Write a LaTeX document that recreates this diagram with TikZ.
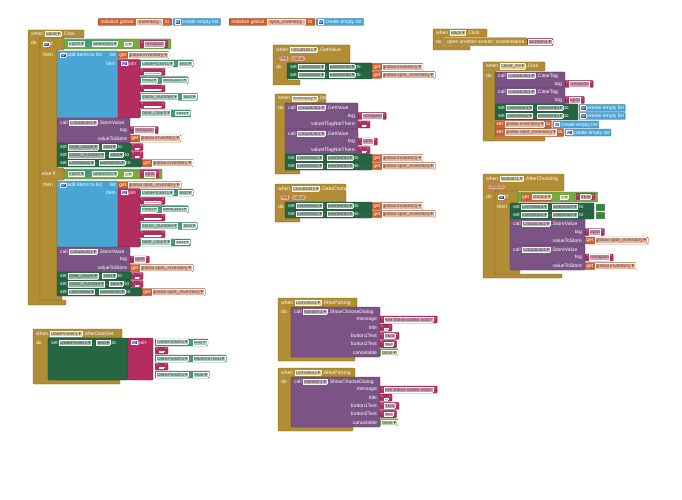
\documentclass[tikz,border=0pt]{standalone}
\usepackage{fontspec}
\setsansfont{Liberation Sans}
\newfontfamily\symf{DejaVu Sans}
\usepackage{xcolor}
\usetikzlibrary{positioning}

\definecolor{evtC}{RGB}{177,142,53}
\definecolor{lstC}{RGB}{73,166,212}
\definecolor{txtC}{RGB}{179,45,94}
\definecolor{getC}{RGB}{67,153,112}
\definecolor{setC}{RGB}{38,102,67}
\definecolor{mthC}{RGB}{124,83,133}
\definecolor{varC}{RGB}{208,95,45}
\definecolor{lgcC}{RGB}{119,171,65}
\definecolor{colC}{RGB}{0,175,0}
\definecolor{gearC}{RGB}{55,75,190}

\newcommand{\bfnt}{\sffamily\fontsize{5}{5.5}\selectfont}
\newcommand{\dd}{\,{\symf\char"25BE}}
\newcommand{\gp}{\hspace{1.6pt}}
% dropdown field, text field, string, gear, nested value block
\newcommand{\fb}[2]{{\setlength{\fboxsep}{0.5pt}\setlength{\fboxrule}{0.25pt}\fcolorbox{white}{#1!48!white}{\textcolor{black!70}{#2\dd}}}}
\newcommand{\fs}[2]{{\setlength{\fboxsep}{0.5pt}\setlength{\fboxrule}{0.25pt}\fcolorbox{white}{#1!48!white}{\textcolor{black!70}{#2}}}}
\newcommand{\qs}[1]{"\,\fs{txtC}{#1}\,"}
\newcommand{\gear}{{\setlength{\fboxsep}{0.3pt}\setlength{\fboxrule}{0.25pt}\fcolorbox{white}{gearC}{\textcolor{white}{\symf\char"2699}}}}
\newcommand{\vbx}[2]{{\setlength{\fboxsep}{1pt}\colorbox{#1}{#2}}}

% the seven pieces joined in Save.Click
\newcommand{\savejoin}[2]{%
  \node[vb=getC] (#1a) at (140,#2) {\fb{getC}{DatePicker1}\gp.\gp\fb{getC}{Text}};
  \node[vb=txtC] (#1b) at (140,#2+8.3) {\qs{\hspace{16pt}}};
  \node[vb=getC] (#1c) at (140,#2+16.7) {\fb{getC}{Field}\gp.\gp\fb{getC}{Selection}};
  \node[vb=txtC] (#1d) at (140,#2+25) {\qs{\hspace{16pt}}};
  \node[vb=getC] (#1e) at (140,#2+33.3) {\fb{getC}{stack\_number}\gp.\gp\fb{getC}{Text}};
  \node[vb=txtC] (#1f) at (140,#2+41.7) {\qs{\hspace{16pt}}};
  \node[vb=getC] (#1g) at (140,#2+50) {\fb{getC}{bale\_count}\gp.\gp\fb{getC}{Text}};
}
% the five sockets of ShowChooseDialog
\newcommand{\dialog}[2]{%
  \node[rlbl] (#1m) at (377,#2) {message};
  \node[rlbl] (#1t) at (377,#2+8.2) {title};
  \node[rlbl] (#1b) at (377,#2+16.4) {button1Text};
  \node[rlbl] (#1n) at (377,#2+24.6) {button2Text};
  \node[rlbl] (#1c) at (377,#2+32.8) {cancelable};
  \node[vb=txtC] (#1mv) at (380,#2) {\qs{Are these bales sold?}};
  \node[vb=txtC] (#1tv) at (380,#2+8.2) {\qs{\hspace{3pt}}};
  \node[vb=txtC] (#1bv) at (380,#2+16.4) {\qs{YES}};
  \node[vb=txtC] (#1nv) at (380,#2+24.6) {\qs{NO}};
  \node[vb=lgcC] (#1cv) at (380,#2+32.8) {\fb{lgcC}{false}};
}

\begin{document}
\begin{tikzpicture}[x=1pt, y=-1pt,
    blk/.style={line width=0.3pt, rounded corners=0.8pt},
    evtb/.style={blk, fill=evtC, draw=evtC!70!black},
    lstb/.style={blk, fill=lstC, draw=lstC!70!black},
    txtb/.style={blk, fill=txtC, draw=txtC!70!black},
    setb/.style={blk, fill=setC, draw=setC!70!black},
    mthb/.style={blk, fill=mthC, draw=mthC!70!black},
    lbl/.style={font=\bfnt, text=white, inner sep=0pt, anchor=west},
    rlbl/.style={lbl, anchor=east},
    vb/.style={font=\bfnt, text=white, inner xsep=1.2pt, inner ysep=0.3pt,
               minimum height=7pt, rounded corners=0.8pt, anchor=west,
               fill=#1, draw=#1!70!black, line width=0.3pt},
    param/.style={font=\bfnt, fill=varC!50!white, draw=varC, text=black!65,
                  rounded corners=1pt, inner xsep=1.2pt, inner ysep=0.6pt,
                  anchor=west, line width=0.3pt},
    colb/.style={fill=colC, draw=black!55, line width=0.4pt,
                 minimum width=8pt, minimum height=6pt, inner sep=0pt, anchor=west}]
  \fill[white] (0,0) rectangle (682,500);

  % globals
  \node[vb=varC, inner xsep=2.5pt] (initInv) at (98,22) {initialize global\hspace{3pt}\fs{varC}{\hspace{2pt}inventory\hspace{2pt}}\hspace{3pt}to};
  \node[vb=lstC, inner xsep=2pt, right=1pt of initInv] (initInvL) {\gear\gp create empty list};
  \node[vb=varC, inner xsep=2.5pt] (initSpot) at (229,22) {initialize global\hspace{3pt}\fs{varC}{\hspace{2pt}spot\_inventory\hspace{2pt}}\hspace{3pt}to};
  \node[vb=lstC, inner xsep=2pt, right=1pt of initSpot] (initSpotL) {\gear\gp create empty list};

  % when Save.Click
  \draw[evtb] (28,30) -- (84,30) -- (84,38) -- (40,38) -- (40,300) -- (66,300)
    -- (66,305) -- (28,305) -- cycle;
  \node[lbl] (svHd) at (31,34) {when\gp\fb{evtC}{Save}\gp.Click};
  \node[lbl] (svDo) at (31,43) {do};
  \draw[evtb] (40,38) -- (64,38) -- (64,50) -- (57,50) -- (57,168) -- (64,168)
    -- (64,180) -- (57,180) -- (57,296) -- (62,296) -- (62,300) -- (40,300) -- cycle;
  \node[lbl] (svIf) at (43,44) {\gear\gp if};
  \node[lbl] (svThenA) at (43,55) {then};
  \node[lbl] (svElif) at (42,174) {else if};
  \node[lbl] (svThenB) at (43,185) {then};
  \node[vb=lgcC, minimum height=10pt, inner xsep=3pt] (svCondA) at (64,44)
    {\vbx{getC}{\fb{getC}{Farm}\hspace{3pt}.\hspace{3pt}\fb{getC}{Selection}}\hspace{6pt}\fb{lgcC}{=}\hspace{8pt}\vbx{txtC}{\qs{Tonopah}}};
  \node[vb=lgcC, minimum height=10pt, inner xsep=3pt] (svCondB) at (64,174)
    {\vbx{getC}{\fb{getC}{Farm}\hspace{3pt}.\hspace{3pt}\fb{getC}{Selection}}\hspace{6pt}\fb{lgcC}{=}\hspace{8pt}\vbx{txtC}{\qs{Spot}}};

  % then (Tonopah)
  \draw[lstb] (57,51) rectangle (118,118);
  \node[lbl] (svAddA) at (60,55) {\gear\gp add items to list};
  \node[rlbl] (svAddAl) at (116,55) {list};
  \node[rlbl] (svAddAi) at (116,63.5) {item};
  \node[vb=varC] (svAddAg) at (118,55) {get\gp\fb{varC}{global inventory}};
  \draw[txtb] (118,59.5) rectangle (140,118);
  \node[lbl] (svJoinA) at (121,63.5) {\gear\gp join};
  \savejoin{svJa}{63.5}
  \draw[mthb] (57,118) rectangle (130,143);
  \node[lbl] (svCallA) at (60,122.5) {call\gp\fb{mthC}{CloudDB1}\gp.StoreValue};
  \node[rlbl] (svTagA) at (127,130) {tag};
  \node[rlbl] (svValA) at (127,138.5) {valueToStore};
  \node[vb=txtC] (svTagAv) at (130,130) {\qs{Tonopah}};
  \node[vb=varC] (svValAv) at (130,138.5) {get\gp\fb{varC}{global inventory}};
  \draw[setb] (57,143) rectangle (131,151);
  \node[lbl] (svSetA1) at (60,147) {set\gp\fb{setC}{bale\_count}\gp.\gp\fb{setC}{Text}\gp to};
  \node[vb=txtC] (svSetA1v) at (131,147) {\qs{\hspace{3pt}}};
  \draw[setb] (57,151) rectangle (131,159);
  \node[lbl] (svSetA2) at (60,155) {set\gp\fb{setC}{stack\_number}\gp.\gp\fb{setC}{Text}\gp to};
  \node[vb=txtC] (svSetA2v) at (131,155) {\qs{\hspace{3pt}}};
  \draw[setb] (57,159) rectangle (142,167);
  \node[lbl] (svSetA3) at (60,163) {set\gp\fb{setC}{ListView1}\gp.\gp\fb{setC}{Elements}\gp to};
  \node[vb=varC] (svSetA3v) at (142,163) {get\gp\fb{varC}{global inventory}};

  % then (Spot)
  \draw[lstb] (57,181) rectangle (118,247);
  \node[lbl] (svAddB) at (60,185) {\gear\gp add items to list};
  \node[rlbl] (svAddBl) at (116,185) {list};
  \node[rlbl] (svAddBi) at (116,192.5) {item};
  \node[vb=varC] (svAddBg) at (118,185) {get\gp\fb{varC}{global spot\_inventory}};
  \draw[txtb] (118,188.5) rectangle (140,247);
  \node[lbl] (svJoinB) at (121,192.5) {\gear\gp join};
  \savejoin{svJb}{192.5}
  \draw[mthb] (57,247) rectangle (130,272);
  \node[lbl] (svCallB) at (60,251.5) {call\gp\fb{mthC}{CloudDB1}\gp.StoreValue};
  \node[rlbl] (svTagB) at (127,259.5) {tag};
  \node[rlbl] (svValB) at (127,268) {valueToStore};
  \node[vb=txtC] (svTagBv) at (130,259.5) {\qs{Spot}};
  \node[vb=varC] (svValBv) at (130,268) {get\gp\fb{varC}{global spot\_inventory}};
  \draw[setb] (57,272) rectangle (131,280);
  \node[lbl] (svSetB1) at (60,276) {set\gp\fb{setC}{bale\_count}\gp.\gp\fb{setC}{Text}\gp to};
  \node[vb=txtC] (svSetB1v) at (131,276) {\qs{\hspace{3pt}}};
  \draw[setb] (57,280) rectangle (131,288);
  \node[lbl] (svSetB2) at (60,284) {set\gp\fb{setC}{stack\_number}\gp.\gp\fb{setC}{Text}\gp to};
  \node[vb=txtC] (svSetB2v) at (131,284) {\qs{\hspace{3pt}}};
  \draw[setb] (57,288) rectangle (142,296);
  \node[lbl] (svSetB3) at (60,292) {set\gp\fb{setC}{ListView2}\gp.\gp\fb{setC}{Elements}\gp to};
  \node[vb=varC] (svSetB3v) at (142,292) {get\gp\fb{varC}{global spot\_inventory}};

  % when CloudDB1.GotValue
  \draw[evtb] (273,45) -- (350,45) -- (350,63) -- (287,63) -- (287,80) -- (300,80)
    -- (300,85) -- (273,85) -- cycle;
  \node[lbl] (gvHd) at (276,50) {when\gp\fb{evtC}{CloudDB1}\gp.GotValue};
  \node[param] (gvTag) at (279,58.5) {tag};
  \node[param, right=2pt of gvTag] (gvVal) {value};
  \node[lbl] (gvDo) at (276,67) {do};
  \draw[setb] (287,63) rectangle (372,71);
  \node[lbl] (gvSet1) at (290,67) {set\gp\fb{setC}{ListView1}\gp.\gp\fb{setC}{Elements}\gp to};
  \node[vb=varC] (gvSet1v) at (372,67) {get\gp\fb{varC}{global inventory}};
  \draw[setb] (287,71) rectangle (372,79);
  \node[lbl] (gvSet2) at (290,75) {set\gp\fb{setC}{ListView2}\gp.\gp\fb{setC}{Elements}\gp to};
  \node[vb=varC] (gvSet2v) at (372,75) {get\gp\fb{varC}{global spot\_inventory}};

  % when Inventory.Initialize
  \draw[evtb] (275,94) -- (326,94) -- (326,103) -- (285,103) -- (285,170) -- (300,170)
    -- (300,174) -- (275,174) -- cycle;
  \node[lbl] (inHd) at (278,98.5) {when\gp\fb{evtC}{Inventory}\gp.Initialize};
  \node[lbl] (inDo) at (278,108) {do};
  \draw[mthb] (285,103) rectangle (358,129);
  \node[lbl] (inCall1) at (288,107.5) {call\gp\fb{mthC}{CloudDB1}\gp.GetValue};
  \node[rlbl] (inTag1) at (355,116) {tag};
  \node[rlbl] (inNot1) at (355,124.5) {valueIfTagNotThere};
  \node[vb=txtC] (inTag1v) at (358,116) {\qs{Tonopah}};
  \node[vb=txtC] (inNot1v) at (358,124.5) {\qs{\hspace{3pt}}};
  \draw[mthb] (285,129) rectangle (358,154);
  \node[lbl] (inCall2) at (288,133.5) {call\gp\fb{mthC}{CloudDB1}\gp.GetValue};
  \node[rlbl] (inTag2) at (355,141.5) {tag};
  \node[rlbl] (inNot2) at (355,150) {valueIfTagNotThere};
  \node[vb=txtC] (inTag2v) at (358,141.5) {\qs{Spot}};
  \node[vb=txtC] (inNot2v) at (358,150) {\qs{\hspace{3pt}}};
  \draw[setb] (285,154) rectangle (372,162);
  \node[lbl] (inSet1) at (288,158) {set\gp\fb{setC}{ListView1}\gp.\gp\fb{setC}{Elements}\gp to};
  \node[vb=varC] (inSet1v) at (372,158) {get\gp\fb{varC}{global inventory}};
  \draw[setb] (285,162) rectangle (372,170);
  \node[lbl] (inSet2) at (288,166) {set\gp\fb{setC}{ListView2}\gp.\gp\fb{setC}{Elements}\gp to};
  \node[vb=varC] (inSet2v) at (372,166) {get\gp\fb{varC}{global spot\_inventory}};

  % when CloudDB1.DataChanged
  \draw[evtb] (275,184) -- (346,184) -- (346,202) -- (285,202) -- (285,218) -- (300,218)
    -- (300,222) -- (275,222) -- cycle;
  \node[lbl] (dcHd) at (278,189) {when\gp\fb{evtC}{CloudDB1}\gp.DataChanged};
  \node[param] (dcTag) at (280,197.5) {tag};
  \node[param, right=2pt of dcTag] (dcVal) {value};
  \node[lbl] (dcDo) at (278,207) {do};
  \draw[setb] (285,202) rectangle (372,210);
  \node[lbl] (dcSet1) at (288,206) {set\gp\fb{setC}{ListView1}\gp.\gp\fb{setC}{Elements}\gp to};
  \node[vb=varC] (dcSet1v) at (372,206) {get\gp\fb{varC}{global inventory}};
  \draw[setb] (285,210) rectangle (372,218);
  \node[lbl] (dcSet2) at (288,214) {set\gp\fb{setC}{ListView2}\gp.\gp\fb{setC}{Elements}\gp to};
  \node[vb=varC] (dcSet2v) at (372,214) {get\gp\fb{varC}{global spot\_inventory}};

  % when Back.Click
  \draw[evtb] (433,29) -- (487,29) -- (487,37) -- (444,37) -- (444,46) -- (470,46)
    -- (470,50) -- (433,50) -- cycle;
  \node[lbl] (bkHd) at (436,33) {when\gp\fb{evtC}{Back}\gp.Click};
  \node[lbl] (bkDo) at (436,42) {do};
  \draw[evtb, draw=evtC!40!white] (444,37.5) rectangle (527,46);
  \node[lbl] (bkOpen) at (447,42) {open another screen\hspace{3pt}screenName};
  \node[vb=txtC] (bkScr) at (527,42) {\fb{txtC}{Screen1}};

  % when Clear_All.Click
  \draw[evtb] (483,62) -- (545,62) -- (545,71) -- (495,71) -- (495,137) -- (545,137)
    -- (545,141) -- (483,141) -- cycle;
  \node[lbl] (caHd) at (486,66.5) {when\gp\fb{evtC}{Clear\_All}\gp.Click};
  \node[lbl] (caDo) at (486,76) {do};
  \draw[mthb] (495,72) rectangle (565,88);
  \node[lbl] (caCall1) at (498,76) {call\gp\fb{mthC}{CloudDB1}\gp.ClearTag};
  \node[rlbl] (caTag1) at (562,84) {tag};
  \node[vb=txtC] (caTag1v) at (565,84) {\qs{Tonopah}};
  \draw[mthb] (495,88) rectangle (565,104);
  \node[lbl] (caCall2) at (498,92) {call\gp\fb{mthC}{CloudDB1}\gp.ClearTag};
  \node[rlbl] (caTag2) at (562,100) {tag};
  \node[vb=txtC] (caTag2v) at (565,100) {\qs{Spot}};
  \draw[setb] (495,104) rectangle (578,112);
  \node[lbl] (caSet1) at (498,108) {set\gp\fb{setC}{ListView1}\gp.\gp\fb{setC}{Elements}\gp to};
  \node[vb=lstC] (caSet1v) at (579,108) {\gear\gp create empty list};
  \draw[setb] (495,112) rectangle (578,120);
  \node[lbl] (caSet2) at (498,116) {set\gp\fb{setC}{ListView2}\gp.\gp\fb{setC}{Elements}\gp to};
  \node[vb=lstC] (caSet2v) at (579,116) {\gear\gp create empty list};
  \node[vb=varC, minimum height=8pt] (caSet3) at (495,124.5) {set\gp\fb{varC}{global inventory}\gp to};
  \node[vb=lstC, right=1pt of caSet3] (caSet3v) {\gear\gp create empty list};
  \node[vb=varC, minimum height=8pt] (caSet4) at (495,132.5) {set\gp\fb{varC}{global spot\_inventory}\gp to};
  \node[vb=lstC, right=1pt of caSet4] (caSet4v) {\gear\gp create empty list};

  % when Notifier1.AfterChoosing
  \draw[evtb] (483,174) -- (564,174) -- (564,191) -- (495,191) -- (495,274) -- (562,274)
    -- (562,278) -- (483,278) -- cycle;
  \node[lbl] (acHd) at (486,178.5) {when\gp\fb{evtC}{Notifier1}\gp.AfterChoosing};
  \node[param] (acCh) at (488,187) {choice};
  \node[lbl] (acDo) at (486,197) {do};
  \draw[evtb] (495,191) -- (518,191) -- (518,203) -- (510,203) -- (510,270) -- (520,270)
    -- (520,274) -- (495,274) -- cycle;
  \node[lbl] (acIf) at (498,197) {\gear\gp if};
  \node[lbl] (acThen) at (497,207) {then};
  \node[vb=lgcC, minimum height=10pt, inner xsep=3pt] (acCond) at (518,197)
    {\vbx{varC}{get\hspace{3pt}\fb{varC}{choice}}\hspace{8pt}\fb{lgcC}{=}\hspace{8pt}\vbx{txtC}{\qs{YES}}};
  \draw[setb] (510,203) rectangle (594,211);
  \node[lbl] (acSet1) at (513,207) {set\gp\fb{setC}{ListView1}\gp.\gp\fb{setC}{Selection}\gp to};
  \node[colb] (acSet1v) at (596,207) {};
  \draw[setb] (510,211) rectangle (594,219);
  \node[lbl] (acSet2) at (513,215) {set\gp\fb{setC}{ListView2}\gp.\gp\fb{setC}{Selection}\gp to};
  \node[colb] (acSet2v) at (596,215) {};
  \draw[mthb] (510,219) rectangle (585,245);
  \node[lbl] (acCall1) at (513,223.5) {call\gp\fb{mthC}{CloudDB1}\gp.StoreValue};
  \node[rlbl] (acTag1) at (582,232) {tag};
  \node[rlbl] (acVal1) at (582,240.5) {valueToStore};
  \node[vb=txtC] (acTag1v) at (585,232) {\qs{Spot}};
  \node[vb=varC] (acVal1v) at (585,240.5) {get\gp\fb{varC}{global spot\_inventory}};
  \draw[mthb] (510,245) rectangle (585,270);
  \node[lbl] (acCall2) at (513,249.5) {call\gp\fb{mthC}{CloudDB1}\gp.StoreValue};
  \node[rlbl] (acTag2) at (582,257.5) {tag};
  \node[rlbl] (acVal2) at (582,266) {valueToStore};
  \node[vb=txtC] (acTag2v) at (585,257.5) {\qs{Tonopah}};
  \node[vb=varC] (acVal2v) at (585,266) {get\gp\fb{varC}{global inventory}};

  % when DatePicker1.AfterDateSet
  \draw[evtb] (33,329) -- (122,329) -- (122,338) -- (48,338) -- (48,380) -- (120,380)
    -- (120,384) -- (33,384) -- cycle;
  \node[lbl] (dpHd) at (36,333.5) {when\gp\fb{evtC}{DatePicker1}\gp.AfterDateSet};
  \node[lbl] (dpDo) at (36,342.5) {do};
  \draw[setb] (48,338) rectangle (128,380);
  \node[lbl] (dpSet) at (51,342.5) {set\gp\fb{setC}{DatePicker1}\gp.\gp\fb{setC}{Text}\gp to};
  \draw[txtb] (128,338) rectangle (153,380);
  \node[lbl] (dpJoin) at (131,342.5) {\gear\gp join};
  \node[vb=getC] (dpDay) at (155,342.5) {\fb{getC}{DatePicker1}\gp.\gp\fb{getC}{Day}};
  \node[vb=txtC] (dpSep1) at (155,350.5) {\qs{\hspace{4pt}}};
  \node[vb=getC] (dpMon) at (155,358.5) {\fb{getC}{DatePicker1}\gp.\gp\fb{getC}{MonthInText}};
  \node[vb=txtC] (dpSep2) at (155,366.5) {\qs{\hspace{4pt}}};
  \node[vb=getC] (dpYear) at (155,374.5) {\fb{getC}{DatePicker1}\gp.\gp\fb{getC}{Year}};

  % when ListView1.AfterPicking
  \draw[evtb] (278,298) -- (357,298) -- (357,307) -- (291,307) -- (291,357) -- (355,357)
    -- (355,361) -- (278,361) -- cycle;
  \node[lbl] (lpaHd) at (281,302.5) {when\gp\fb{evtC}{ListView1}\gp.AfterPicking};
  \node[lbl] (lpaDo) at (281,311.5) {do};
  \draw[mthb] (291,307) rectangle (380,357);
  \node[lbl] (lpaCall) at (294,311.5) {call\gp\fb{mthC}{Notifier1}\gp.ShowChooseDialog};
  \dialog{lpa}{319.5}

  % when ListView2.AfterPicking
  \draw[evtb] (278,368) -- (355,368) -- (355,377) -- (291,377) -- (291,427) -- (353,427)
    -- (353,431) -- (278,431) -- cycle;
  \node[lbl] (lpbHd) at (281,372.5) {when\gp\fb{evtC}{ListView2}\gp.AfterPicking};
  \node[lbl] (lpbDo) at (281,381.5) {do};
  \draw[mthb] (291,377) rectangle (380,427);
  \node[lbl] (lpbCall) at (294,381.5) {call\gp\fb{mthC}{Notifier1}\gp.ShowChooseDialog};
  \dialog{lpb}{389.5}
\end{tikzpicture}
\end{document}
